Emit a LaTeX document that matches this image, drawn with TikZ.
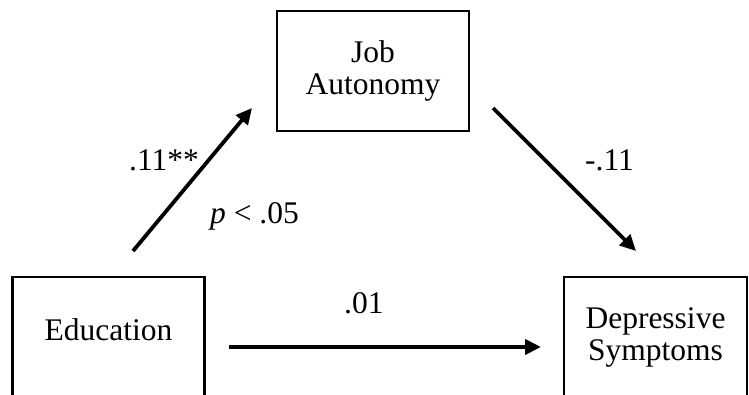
\documentclass[tikz,border=0pt]{standalone}
\usepackage{fontspec}
\setmainfont{Liberation Serif}
\usetikzlibrary{arrows.meta}
\begin{document}
\begin{tikzpicture}[x=1pt,y=-1pt,
  varbox/.style={draw=black, line width=2.2pt, minimum width=192pt,
    minimum height=120pt, inner sep=0pt, align=center,
    font=\fontsize{31.5}{32}\selectfont},
  link/.style={line width=3.8pt, -{Triangle[length=16pt,width=15pt]}},
  coef/.style={anchor=base west, inner sep=0pt,
    font=\fontsize{31.5}{32}\selectfont}]
\useasboundingbox (0,0) rectangle (749,394);
\clip (0,0) rectangle (749,394);
\fill[white] (0,0) rectangle (749,394);

% variables
\node[varbox] (job) at (373,71) {Job\\Autonomy};
\node[varbox, text depth=15.5pt] (edu) at (108.5,337) {Education};
\node[varbox, minimum width=183pt] (dep) at (655.5,337) {Depressive\\Symptoms};

% path end points
\coordinate (a1s) at (133,251);
\coordinate (a1e) at (252,108);
\coordinate (b1s) at (493,108);
\coordinate (b1e) at (636,251);
\coordinate (c1s) at (229,347);
\coordinate (c1e) at (541,347);

% paths
\draw[link] (a1s) -- (a1e);
\draw[link] (b1s) -- (b1e);
\draw[link] (c1s) -- (c1e);

% coefficients
\node[coef] (ca) at (129,170) {.11**};
\node[coef] (cp) at (210,223) {\textit{p} < .05};
\node[coef] (cb) at (585,170) {-.11};
\node[coef] (cc) at (344,313) {.01};
\end{tikzpicture}
\end{document}
